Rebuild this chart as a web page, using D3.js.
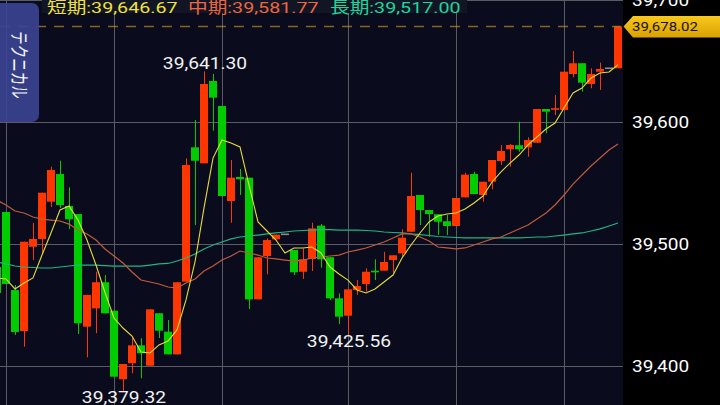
<!DOCTYPE html>
<html><head><meta charset="utf-8">
<script src="https://cdn.jsdelivr.net/npm/d3@7"></script>
<style>html,body{margin:0;padding:0;background:#000;}svg{display:block;}</style>
</head><body><svg id="c" width="720" height="405"></svg>
<script>
// ---- data ----
const opens  = [39480.9,39526.0,39462.0,39428.4,39497.5,39503.9,39534.4,39557.1,39530.9,39524.3,
                39432.0,39447.0,39468.4,39445.1,39388.9,39402.0,39416.7,39400.0,39443.0,39427.9,
                39409.3,39468.9,39579.0,39565.9,39633.4,39612.9,39535.0,39554.7,39554.1,39454.4,
                39489.9,39503.6,39507.7,39494.8,39477.0,39487.5,39514.8,39488.9,39455.2,39441.0,
                39462.0,39467.0,39477.6,39477.9,39486.6,39492.1,39509.8,39539.9,39527.6,39524.1,
                39518.4,39514.5,39538.0,39557.1,39539.9,39550.8,39567.8,39577.4,39580.7,39579.0,
                39582.8,39610.4,39609.8,39609.6,39639.1,39647.9,39630.9,39641.0,39643.8,39643.8];
const highs  = [39480.9,39526.0,39466.1,39501.6,39517.0,39541.8,39563.1,39568.0,39546.2,39524.3,
                39458.0,39477.0,39474.3,39445.1,39401.4,39423.8,39422.5,39446.2,39443.0,39437.5,
                39468.4,39570.0,39601.4,39641.30,39639.1,39612.9,39568.6,39561.2,39554.1,39488.9,
                39504.4,39507.4,39507.7,39494.8,39496.2,39517.2,39516.1,39488.9,39459.3,39462.6,
                39470.2,39479.8,39487.2,39493.4,39490.5,39511.8,39558.2,39539.9,39527.6,39524.1,
                39523.5,39537.5,39558.2,39559.0,39550.8,39568.6,39580.9,39581.7,39600.0,39587.2,
                39610.4,39610.4,39621.9,39641.0,39657.95,39647.9,39643.8,39648.4,39643.8,39678.02];
const lows   = [39459.6,39467.0,39425.2,39415.6,39486.6,39491.6,39530.1,39529.3,39512.0,39426.0,
                39406.9,39426.6,39443.0,39391.0,39379.32,39393.8,39389.7,39400.0,39422.7,39409.3,
                39409.3,39468.9,39515.3,39565.9,39592.6,39539.1,39517.2,39539.9,39446.5,39454.4,
                39474.9,39503.6,39507.7,39474.3,39471.1,39477.6,39480.3,39453.9,39434.2,39425.56,
                39458.0,39460.7,39470.2,39477.9,39476.2,39489.3,39509.8,39515.3,39505.7,39507.1,
                39507.1,39514.5,39538.0,39540.7,39534.4,39544.6,39564.5,39563.1,39575.4,39571.3,
                39582.8,39590.5,39605.5,39609.6,39636.4,39624.6,39627.4,39626.0,39643.8,39643.8];
const closes = [39459.6,39467.0,39427.6,39501.6,39503.9,39541.8,39560.4,39531.7,39520.0,39434.8,
                39458.0,39468.4,39443.0,39391.0,39401.4,39416.7,39410.2,39446.2,39428.7,39409.3,
                39468.4,39564.5,39568.0,39630.9,39619.7,39539.1,39554.1,39552.8,39454.4,39488.9,
                39503.0,39507.4,39507.7,39476.6,39487.2,39512.6,39487.2,39455.2,39440.2,39462.6,
                39465.3,39477.0,39476.8,39485.0,39490.5,39504.9,39539.1,39527.6,39524.3,39518.0,
                39514.5,39537.5,39556.6,39540.7,39550.8,39568.6,39576.0,39580.9,39577.4,39585.0,
                39610.4,39608.2,39611.0,39641.0,39647.9,39632.0,39639.1,39643.2,39643.8,39678.02];
const maShort = [39471.9,39471.1,39462.9,39467.8,39471.9,39490.7,39508.8,39527.6,39530.9,39519.5,
                 39503.0,39482.5,39460.0,39439.1,39430.9,39424.3,39411.2,39410.4,39417.0,39420.2,
                 39429.3,39453.9,39485.0,39529.3,39570.2,39585.0,39582.5,39579.3,39548.1,39517.8,
                 39510.4,39503.0,39492.4,39496.5,39496.5,39497.3,39492.4,39480.9,39475.2,39470.2,
                 39462.1,39459.6,39462.9,39468.6,39474.3,39488.3,39498.9,39508.8,39517.8,39522.7,
                 39524.3,39525.2,39528.4,39533.4,39539.1,39550.6,39558.8,39566.1,39572.7,39580.9,
                 39587.5,39594.0,39598.9,39611.2,39623.5,39627.6,39635.8,39639.9,39640.7,39646.67];
const maMid   = [39535.8,39531.7,39526.8,39525.2,39521.9,39520.2,39519.4,39518.6,39516.1,39511.2,
                 39508.0,39503.0,39495.7,39489.9,39484.2,39476.8,39470.2,39468.6,39467.0,39464.5,
                 39463.7,39467.8,39471.1,39477.6,39481.7,39486.6,39489.9,39494.0,39492.4,39490.7,
                 39488.3,39487.5,39486.6,39485.8,39486.6,39488.3,39489.1,39489.9,39490.7,39493.2,
                 39494.8,39496.5,39498.9,39501.4,39504.7,39508.0,39508.0,39505.5,39502.2,39497.3,
                 39496.5,39495.7,39496.5,39498.9,39501.4,39503.9,39505.5,39508.8,39512.1,39515.3,
                 39520.2,39525.2,39531.7,39539.9,39548.9,39556.3,39563.7,39570.2,39576.8,39581.77];
const maLong  = [39485.0,39483.4,39481.7,39480.9,39480.5,39480.1,39480.1,39480.9,39481.7,39482.5,
                 39482.5,39482.5,39482.1,39481.7,39481.7,39481.7,39481.7,39482.5,39483.4,39483.8,
                 39485.8,39488.3,39491.6,39495.7,39498.9,39501.4,39503.9,39505.5,39506.3,39507.1,
                 39508.0,39508.8,39509.6,39510.4,39510.8,39511.2,39511.6,39511.6,39511.2,39511.2,
                 39511.2,39510.8,39510.4,39509.6,39509.2,39508.8,39508.0,39507.5,39506.7,39505.9,
                 39505.5,39505.1,39504.7,39504.7,39504.7,39504.7,39504.7,39504.7,39504.7,39505.1,
                 39505.5,39505.5,39506.3,39507.1,39508.0,39508.8,39510.4,39512.1,39514.5,39517.00];
const yTicks = [39400, 39500, 39600, 39700];
const gridIdx = [1, 13, 25, 39, 51, 63];
const markIdx = [23, 14, 39];
const markKind = ["high", "low", "low"];
const legendNames = ["短期", "中期", "長期"];
const sideLabel = "テクニカル";

// ---- layout ----
const W = 720, H = 405, plotW = 623;
const n = closes.length;
const svg = d3.select("#c");
const x = d3.scaleLinear().domain([0, n - 1]).range([-3, 618]);
const y = d3.scaleLinear().domain([39400, 39600]).range([365.7, 121.7]);
const fmt = d3.format(",.2f");
const FONT = "Roboto, 'Noto Sans CJK JP', sans-serif";

svg.append("rect").attr("width", W).attr("height", H).attr("fill", "#000");
svg.append("defs").append("clipPath").attr("id", "pc")
  .append("rect").attr("x", 0).attr("y", 0).attr("width", plotW).attr("height", H);
const plot = svg.append("g").attr("clip-path", "url(#pc)");
plot.append("rect").attr("width", plotW).attr("height", H).attr("fill", "#0a0c1d");

// grid
plot.selectAll("line.hg").data(yTicks).join("line").attr("class", "hg")
  .attr("x1", 0).attr("x2", plotW)
  .attr("y1", d => Math.round(y(d)) + 0.5).attr("y2", d => Math.round(y(d)) + 0.5)
  .attr("stroke", "#5a5b63").attr("stroke-width", 1.2);
plot.selectAll("line.vg").data(gridIdx).join("line").attr("class", "vg")
  .attr("x1", d => Math.round(x(d)) + 0.5).attr("x2", d => Math.round(x(d)) + 0.5)
  .attr("y1", 0).attr("y2", H)
  .attr("stroke", "#5a5b63").attr("stroke-width", 1);

// candles
const idx = d3.range(n);
const col = i => closes[i] > opens[i] ? "#ff3600" : (closes[i] < opens[i] ? "#00cc00" : "#8a8a90");
const cg = plot.append("g");
cg.selectAll("line.w").data(idx).join("line").attr("class", "w")
  .attr("x1", i => x(i) + 0.5).attr("x2", i => x(i) + 0.5)
  .attr("y1", i => y(highs[i])).attr("y2", i => y(lows[i]))
  .attr("stroke", col).attr("stroke-width", 1);
cg.selectAll("rect.b").data(idx).join("rect").attr("class", "b")
  .attr("x", i => x(i) - 4).attr("width", 8)
  .attr("y", i => {
    const t = y(Math.max(opens[i], closes[i])), b = y(Math.min(opens[i], closes[i]));
    return (b - t) < 1.6 ? (t + b) / 2 - 0.8 : t;
  })
  .attr("height", i => Math.max(1.6, y(Math.min(opens[i], closes[i])) - y(Math.max(opens[i], closes[i]))))
  .attr("fill", col);

// moving averages
const line = arr => d3.line().x((d, i) => x(i)).y(d => y(d))(arr);
plot.append("path").attr("d", line(maLong)).attr("fill", "none").attr("stroke", "#1fb585").attr("stroke-width", 1.2);
plot.append("path").attr("d", line(maMid)).attr("fill", "none").attr("stroke", "#c05a3c").attr("stroke-width", 1.2);
plot.append("path").attr("d", line(maShort)).attr("fill", "none").attr("stroke", "#e6dc38").attr("stroke-width", 1.1);

// high / low marks
markIdx.forEach((k, j) => {
  const isHigh = markKind[j] === "high";
  const v = isHigh ? highs[k] : lows[k];
  const by = isHigh ? y(v) - 2 : y(v) + 12.5;
  plot.append("g").attr("transform", `translate(${x(k) + 1},${by})`)
    .append("text").attr("transform", "scale(1.2,1)")
    .attr("text-anchor", "middle").attr("font-family", FONT).attr("font-size", 16)
    .attr("fill", "#f2f2f2").text(fmt(v));
});

// current price dashed line
const last = closes[n - 1];
plot.append("line").attr("x1", 0).attr("x2", 621)
  .attr("y1", y(last)).attr("y2", y(last))
  .attr("stroke", "rgba(215,160,40,0.6)").attr("stroke-width", 1.5).attr("stroke-dasharray", "10,8");

// side button
const sb = svg.append("g");
sb.append("rect").attr("x", -8).attr("y", 3).attr("width", 47).attr("height", 119).attr("rx", 7)
  .attr("fill", "#3a4492").attr("fill-opacity", 0.9);
sb.append("g").attr("transform", "translate(19,65) scale(1.45,1) rotate(90)")
  .append("text").attr("text-anchor", "middle").attr("dy", "0.36em")
  .attr("font-family", "'Noto Sans CJK JP', sans-serif").attr("font-size", 13.5)
  .attr("fill", "#f4f4f8").text(sideLabel);

// legend
svg.append("rect").attr("x", 42).attr("y", 0).attr("width", 425).attr("height", 13).attr("fill", "#121524");
const legVals = [maShort[n - 1], maMid[n - 1], maLong[n - 1]];
const legCols = ["#f0e23e", "#ee6640", "#1fd69c"];
const legX = [47, 188, 330];
legendNames.forEach((nm, j) => {
  svg.append("g").attr("transform", `translate(${legX[j]},12.6)`)
    .append("text").attr("transform", "scale(1.27,1)")
    .attr("font-family", FONT).attr("font-size", 15.5).attr("fill", legCols[j])
    .text(nm + ":" + fmt(legVals[j]));
});

// right axis
const ax = svg.append("g").attr("transform", "translate(632,0)")
  .call(d3.axisRight(y).tickValues(yTicks).tickFormat(d3.format(",")).tickSize(0).tickPadding(0));
ax.select(".domain").remove();
ax.selectAll("text").attr("x", 0).attr("transform", "scale(1.12,1)")
  .attr("font-family", FONT).attr("font-size", 17).attr("fill", "#ffffff");

// price tag
const ty = y(last);
const defs = svg.select("defs");
const gr = defs.append("linearGradient").attr("id", "tg").attr("x1", 0).attr("y1", 0).attr("x2", 0).attr("y2", 1);
gr.append("stop").attr("offset", "0%").attr("stop-color", "#f8c81c");
gr.append("stop").attr("offset", "100%").attr("stop-color", "#d9a200");
svg.append("path")
  .attr("d", `M623.5,${ty} L633,${ty - 10.5} L720,${ty - 10.5} L720,${ty + 11} L633,${ty + 11} Z`)
  .attr("fill", "url(#tg)");
svg.append("g").attr("transform", `translate(632,${ty + 4.8})`)
  .append("text").attr("transform", "scale(1.2,1)")
  .attr("font-family", FONT).attr("font-size", 12.5).attr("fill", "#1a1200").text(fmt(last));
</script></body></html>
